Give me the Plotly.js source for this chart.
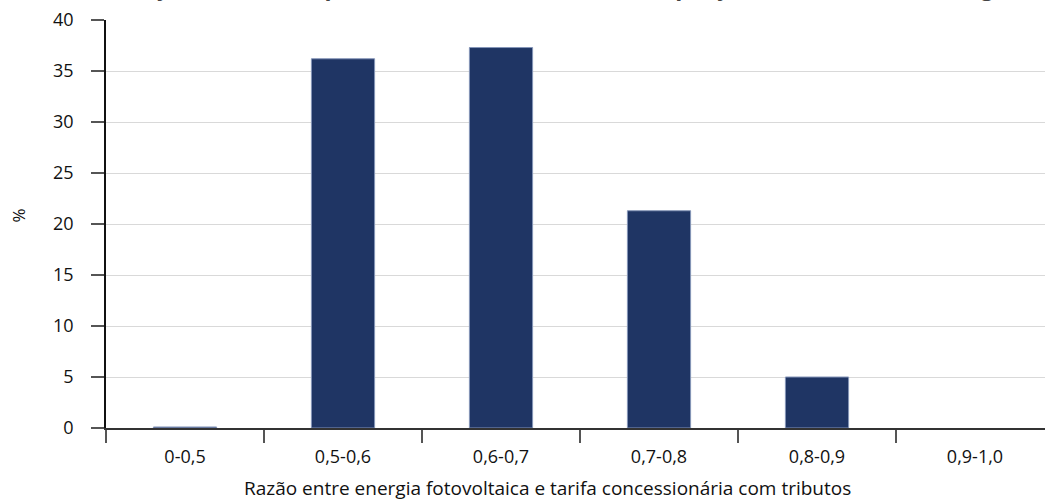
<!DOCTYPE html>
<html>
<head>
<meta charset="utf-8">
<script src="https://cdn.plot.ly/plotly-3.0.1.min.js"></script>
<style>html,body{margin:0;padding:0;background:#fff;}#chart{width:1045px;height:500px;}</style>
</head>
<body>
<div id="chart"></div>
<script>
const categories = ["0-0,5", "0,5-0,6", "0,6-0,7", "0,7-0,8", "0,8-0,9", "0,9-1,0"];
const values = [0.1, 36.2, 37.3, 21.3, 5.0, 0.0];
const yTicks = [0, 5, 10, 15, 20, 25, 30, 35, 40];
const titleText = "Distribuição dos municípios de acordo com a razão de preço entre fontes de energia";
const xTitle = "Razão entre energia fotovoltaica e tarifa concessionária com tributos";
const yTitle = "%";

const font = "'Open Sans', 'Noto Sans', sans-serif";

Plotly.newPlot("chart", [{
  type: "bar",
  x: categories,
  y: values,
  marker: {color: "#1f3564", line: {color: "#8595b8", width: [1, 1, 1, 1, 1, 0]}},
  hoverinfo: "x+y"
}], {
  width: 1045, height: 500,
  margin: {l: 106, r: 0, t: 20, b: 72},
  paper_bgcolor: "#ffffff", plot_bgcolor: "#ffffff",
  bargap: 0.6,
  font: {family: font, size: 18, color: "#111111"},
  xaxis: {
    type: "category", range: [-0.5, 5.443],
    showline: true, linecolor: "#333333", linewidth: 2,
    ticks: "outside", tickson: "boundaries", ticklen: 13, tickcolor: "#555555", tickwidth: 1.5,
    showgrid: false, zeroline: false,
    tickfont: {size: 18, color: "#111111"}, ticklabelstandoff: 11
  },
  yaxis: {
    range: [0, 40], tickvals: yTicks, ticktext: yTicks.map(String),
    showline: true, linecolor: "#111111", linewidth: 1.5,
    ticks: "outside", ticklen: 13, tickcolor: "#555555", tickwidth: 1.5,
    showgrid: true, gridcolor: "#d9d9d9", gridwidth: 1, zeroline: false,
    tickfont: {size: 18, color: "#111111"}, ticklabelstandoff: 14
  },
  annotations: [
    {text: "<b>" + titleText + "</b>", xref: "paper", yref: "paper", x: 0.456, y: 1.04, xanchor: "center", yanchor: "bottom",
     showarrow: false, font: {family: font, size: 23, color: "#444444"}},
    {text: xTitle, xref: "paper", yref: "paper", x: 0.4697, y: -0.147, xanchor: "center", yanchor: "middle",
     showarrow: false, font: {family: font, size: 19, color: "#111111"}},
    {text: yTitle, xref: "paper", yref: "paper", x: -0.093, y: 0.52, xanchor: "center", yanchor: "middle",
     textangle: -90, showarrow: false, font: {family: font, size: 17, color: "#111111"}}
  ],
  showlegend: false
}, {displayModeBar: false});
</script>
</body>
</html>
